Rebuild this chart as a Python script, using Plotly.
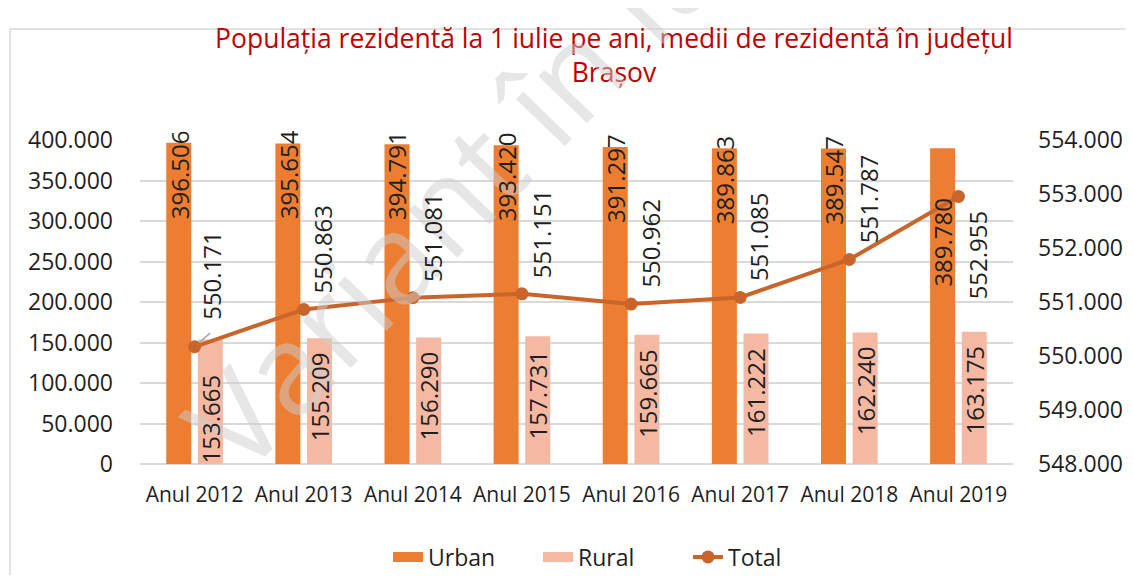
import plotly.graph_objects as go

years = ["Anul 2012", "Anul 2013", "Anul 2014", "Anul 2015",
         "Anul 2016", "Anul 2017", "Anul 2018", "Anul 2019"]
urban = [396506, 395654, 394791, 393420, 391297, 389863, 389547, 389780]
rural = [153665, 155209, 156290, 157731, 159665, 161222, 162240, 163175]
total = [550171, 550863, 551081, 551151, 550962, 551085, 551787, 552955]

URBAN_COLOR = "#ED7D31"
RURAL_COLOR = "#F4B8A3"
TOTAL_COLOR = "#C8652B"
TEXT_COLOR = "#1F1F1F"
GRID_COLOR = "#D9D9D9"
FONT = "Open Sans"

# the page body has an 8px margin, so the figure is drawn 8px in from the window corner
OFF = 8
W, H = 1117, 567
L, R, T, B = 132, 112, 132, 111


def fmt(v):
    return f"{v:,}".replace(",", ".")


def px_to_paper(x, y):
    # x, y are window pixels
    pw, ph = W - L - R, H - T - B
    return (x - OFF - L) / pw, (H - B - (y - OFF)) / ph


fig = go.Figure()
fig.add_trace(go.Bar(x=years, y=urban, name="Urban", marker_color=URBAN_COLOR,
                     marker_line_width=0, showlegend=False, legendgroup="u"))
fig.add_trace(go.Bar(x=years, y=rural, name="Rural", marker_color=RURAL_COLOR,
                     marker_line_width=0, showlegend=False, legendgroup="r"))
fig.add_trace(go.Scatter(x=years, y=total, name="Total", yaxis="y2",
                         mode="lines+markers", showlegend=False, legendgroup="t",
                         line=dict(color=TOTAL_COLOR, width=4),
                         marker=dict(color=TOTAL_COLOR, size=13)))

# legend entries drawn as wide swatches like the original
fig.add_trace(go.Scatter(x=[years[0]], y=[None], name="Urban", mode="lines",
                         legendgroup="u", line=dict(color=URBAN_COLOR, width=10)))
fig.add_trace(go.Scatter(x=[years[0]], y=[None], name="Rural", mode="lines",
                         legendgroup="r", line=dict(color=RURAL_COLOR, width=10)))
fig.add_trace(go.Scatter(x=[years[0]], y=[None], name="Total", mode="lines+markers",
                         legendgroup="t", line=dict(color=TOTAL_COLOR, width=4),
                         marker=dict(color=TOTAL_COLOR, size=13)))

annotations = []

# watermark
wx, wy = px_to_paper(517, 125)
annotations.append(dict(
    text="Variant în lucru", xref="paper", yref="paper", x=wx, y=wy,
    xanchor="center", yanchor="middle",
    showarrow=False, textangle=-46,
    font=dict(family=FONT, size=126, color="rgba(205,205,205,0.5)"),
))

LABEL_SIZE = 24

# urban labels: rotated, near the top of the bar
for i, (cat, v) in enumerate(zip(years, urban)):
    shift = -47 if i == len(years) - 1 else 15
    annotations.append(dict(
        x=cat, y=v, xref="x", yref="y", text=fmt(v), textangle=-90,
        showarrow=False, xanchor="center", yanchor="top",
        xshift=-15.6, yshift=shift,
        font=dict(family=FONT, size=LABEL_SIZE, color=TEXT_COLOR),
    ))

# rural labels: rotated, inside end
for i, (cat, v) in enumerate(zip(years, rural)):
    shift = -33 if i == 0 else -12
    annotations.append(dict(
        x=cat, y=v, xref="x", yref="y", text=fmt(v), textangle=-90,
        showarrow=False, xanchor="center", yanchor="top",
        xshift=15.8, yshift=shift,
        font=dict(family=FONT, size=LABEL_SIZE, color=TEXT_COLOR),
    ))

# total labels
for i, (cat, v) in enumerate(zip(years, total)):
    a = dict(x=cat, y=v, xref="x", yref="y2", text=fmt(v), textangle=-90,
             showarrow=False, xanchor="center",
             font=dict(family=FONT, size=LABEL_SIZE, color=TEXT_COLOR))
    if i == 0:
        a.update(yanchor="bottom", xshift=17, yshift=25)
        # leader line from the point to its moved label
        annotations.append(dict(x=cat, y=v, xref="x", yref="y2", text="",
                                showarrow=True, arrowhead=0, arrowwidth=1.5,
                                arrowcolor="#A6A6A6", ax=17, ay=-15, standoff=6))
    elif i == len(years) - 1:
        a.update(yanchor="top", xshift=19, yshift=-12)
    else:
        a.update(yanchor="bottom", xshift=19, yshift=14)
    annotations.append(a)

fx0, fy0 = px_to_paper(10, 29)
fx1, fy1 = px_to_paper(1150, 600)

fig.update_layout(
    width=W, height=H,
    margin=dict(l=L, r=R, t=T, b=B),
    paper_bgcolor="white", plot_bgcolor="white",
    separators=",.",
    font=dict(family=FONT, size=20, color=TEXT_COLOR),
    title=dict(
        text="Populația rezidentă la 1 iulie pe ani, medii de rezidentă în județul<br>Brașov",
        x=px_to_paper(614, 0)[0], xref="paper", xanchor="center",
        y=1 - 40 / H, yanchor="top",
        font=dict(family=FONT, size=26.5, color="#C00000"),
    ),
    barmode="group", bargap=0.42, bargroupgap=0.21,
    xaxis=dict(showgrid=False, showline=False, ticks="", automargin=False,
               tickfont=dict(size=21), ticklabelstandoff=16),
    yaxis=dict(range=[0, 400000], dtick=50000, tickformat=",d", automargin=False,
               gridcolor=GRID_COLOR, gridwidth=2, zeroline=True,
               zerolinecolor=GRID_COLOR, zerolinewidth=2,
               ticklabelstandoff=26, tickfont=dict(size=23)),
    yaxis2=dict(range=[548000, 554000], dtick=1000, tickformat=",d", automargin=False,
                overlaying="y", side="right", showgrid=False, zeroline=False,
                ticklabelstandoff=24, tickfont=dict(size=23)),
    legend=dict(orientation="h", x=(394 - OFF - 6) / W, xanchor="left", xref="container",
                y=1 - (557 - OFF) / H, yanchor="middle", yref="container",
                entrywidth=105, entrywidthmode="pixels",
                font=dict(size=23), traceorder="normal"),
    annotations=annotations,
    shapes=[dict(type="rect", xref="paper", yref="paper",
                 x0=fx0, y0=fy0, x1=fx1, y1=fy1,
                 line=dict(color=GRID_COLOR, width=1.5), layer="below")],
)

fig.write_html("out.html")
